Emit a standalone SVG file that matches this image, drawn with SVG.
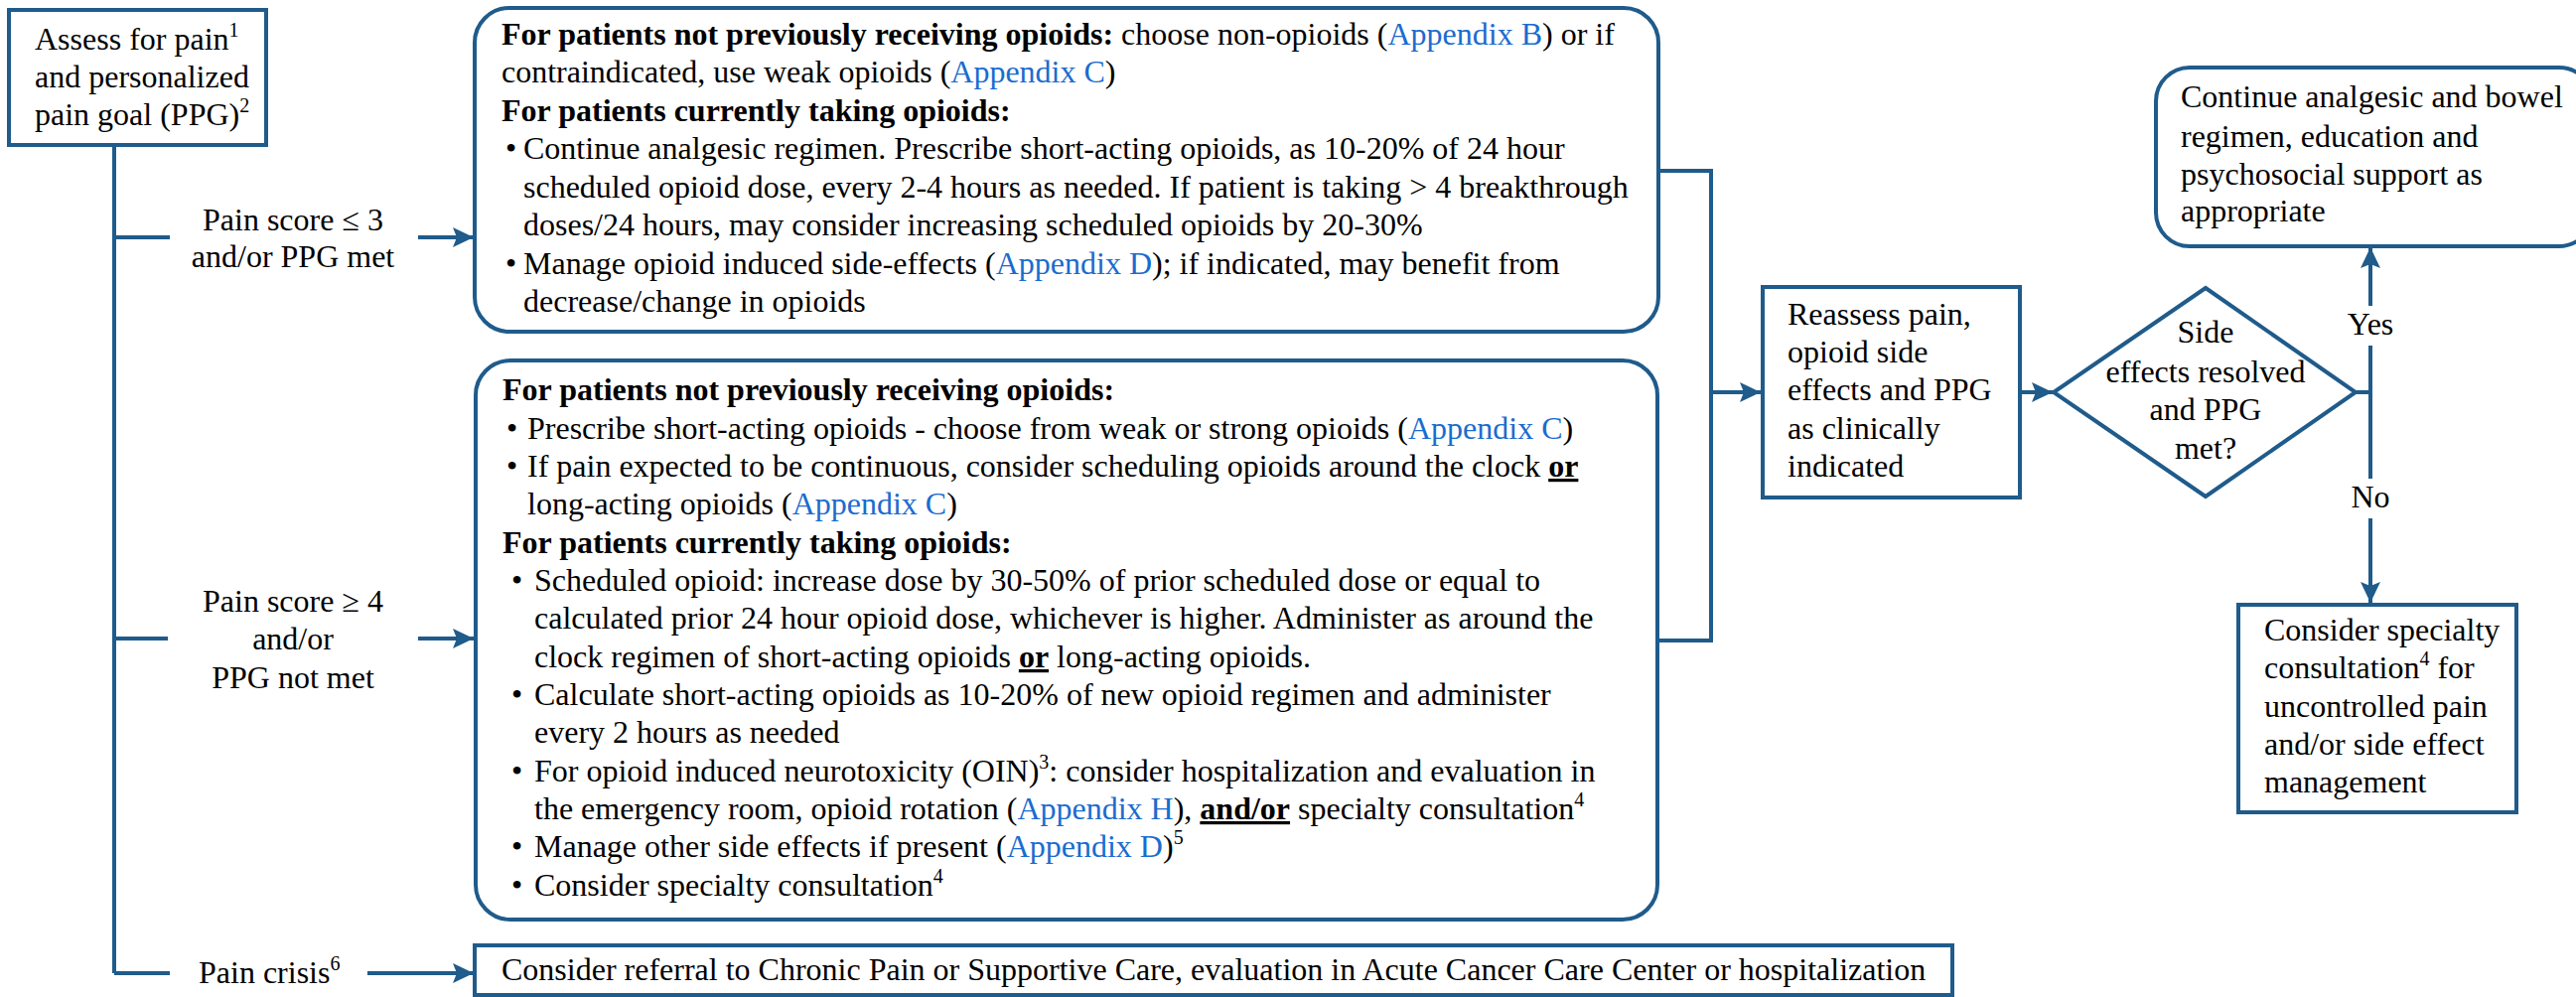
<svg xmlns="http://www.w3.org/2000/svg" width="2594" height="1004" viewBox="0 0 2594 1004">
<style>
text{font-family:"Liberation Serif","Times New Roman",serif;font-size:32px;fill:#000}
.c{text-anchor:middle}
.b{font-weight:bold}
.u{font-weight:bold;text-decoration:underline}
.lk{fill:#1a6ccf}
.box{fill:#fff;stroke:#1f5b8b;stroke-width:4}
.ln{fill:none;stroke:#1f5b8b;stroke-width:4}
</style>
<defs>
<marker id="ah" markerUnits="userSpaceOnUse" markerWidth="22" markerHeight="20" refX="21" refY="10" orient="auto">
<path d="M0,0 L21,10 L0,20 L4,10 z" fill="#1f5b8b"/>
</marker>
</defs>
<rect width="2594" height="1004" fill="#fff"/>

<g id="connectors">
<path class="ln" d="M115,146 V980 M115,239 H171 M115,643 H169 M115,980 H171"/>
<path class="ln" d="M421,239 H477" marker-end="url(#ah)"/>
<path class="ln" d="M421,643 H477" marker-end="url(#ah)"/>
<path class="ln" d="M370,980 H477" marker-end="url(#ah)"/>
<path class="ln" d="M1670,172 H1723 V645 H1669"/>
<path class="ln" d="M1723,395 H1773" marker-end="url(#ah)"/>
<path class="ln" d="M2034,395 H2067" marker-end="url(#ah)"/>
<path class="ln" d="M2372,395 H2387 M2387,348 V482"/>
<path class="ln" d="M2387,308 V249" marker-end="url(#ah)"/>
<path class="ln" d="M2387,522 V607" marker-end="url(#ah)"/>
<text class="c" x="2387" y="337">Yes</text>
<text class="c" x="2387" y="511">No</text>
<text class="c" x="295" y="232">Pain score ≤ 3</text>
<text class="c" x="295" y="269">and/or PPG met</text>
<text class="c" x="295" y="616">Pain score ≥ 4</text>
<text class="c" x="295" y="654">and/or</text>
<text class="c" x="295" y="693">PPG not met</text>
<text x="200" y="990">Pain crisis<tspan font-size="20" dy="-13">6</tspan></text>
</g>

<g id="assess">
<rect class="box" x="9" y="10" width="259" height="136"/>
<text x="35" y="50">Assess for pain<tspan font-size="20" dy="-13">1</tspan></text>
<text x="35" y="88">and personalized</text>
<text x="35" y="126">pain goal (PPG)<tspan font-size="20" dy="-13">2</tspan></text>
</g>

<g id="low-pain">
<rect class="box" x="478" y="8" width="1192" height="326" rx="35"/>
<text x="505" y="45"><tspan class="b">For patients not previously receiving opioids:</tspan> choose non-opioids (<tspan class="lk">Appendix B</tspan>) or if</text>
<text x="505" y="83">contraindicated, use weak opioids (<tspan class="lk">Appendix C</tspan>)</text>
<text x="505" y="122" class="b">For patients currently taking opioids:</text>
<text x="509" y="160">•</text>
<text x="527" y="160">Continue analgesic regimen. Prescribe short-acting opioids, as 10-20% of 24 hour</text>
<text x="527" y="199">scheduled opioid dose, every 2-4 hours as needed. If patient is taking &gt; 4 breakthrough</text>
<text x="527" y="237">doses/24 hours, may consider increasing scheduled opioids by 20-30%</text>
<text x="509" y="276">•</text>
<text x="527" y="276">Manage opioid induced side-effects (<tspan class="lk">Appendix D</tspan>); if indicated, may benefit from</text>
<text x="527" y="314">decrease/change in opioids</text>
</g>

<g id="high-pain">
<rect class="box" x="479" y="363" width="1190" height="563" rx="35"/>
<text x="506" y="403" class="b">For patients not previously receiving opioids:</text>
<text x="510" y="442">•</text>
<text x="531" y="442">Prescribe short-acting opioids - choose from weak or strong opioids (<tspan class="lk">Appendix C</tspan>)</text>
<text x="510" y="480">•</text>
<text x="531" y="480">If pain expected to be continuous, consider scheduling opioids around the clock <tspan class="u">or</tspan></text>
<text x="531" y="518">long-acting opioids (<tspan class="lk">Appendix C</tspan>)</text>
<text x="506" y="557" class="b">For patients currently taking opioids:</text>
<text x="515" y="595">•</text>
<text x="538" y="595">Scheduled opioid: increase dose by 30-50% of prior scheduled dose or equal to</text>
<text x="538" y="633">calculated prior 24 hour opioid dose, whichever is higher. Administer as around the</text>
<text x="538" y="672">clock regimen of short-acting opioids <tspan class="u">or</tspan> long-acting opioids.</text>
<text x="515" y="710">•</text>
<text x="538" y="710">Calculate short-acting opioids as 10-20% of new opioid regimen and administer</text>
<text x="538" y="748">every 2 hours as needed</text>
<text x="515" y="787">•</text>
<text x="538" y="787">For opioid induced neurotoxicity (OIN)<tspan font-size="20" dy="-13">3</tspan><tspan dy="13">: consider hospitalization and evaluation in</tspan></text>
<text x="538" y="825">the emergency room, opioid rotation (<tspan class="lk">Appendix H</tspan>), <tspan class="u">and/or</tspan> specialty consultation<tspan font-size="20" dy="-13">4</tspan></text>
<text x="515" y="863">•</text>
<text x="538" y="863">Manage other side effects if present (<tspan class="lk">Appendix D</tspan>)<tspan font-size="20" dy="-13">5</tspan></text>
<text x="515" y="902">•</text>
<text x="538" y="902">Consider specialty consultation<tspan font-size="20" dy="-13">4</tspan></text>
</g>

<g id="crisis">
<rect class="box" x="478" y="952" width="1488" height="50"/>
<text x="505" y="987">Consider referral to Chronic Pain or Supportive Care, evaluation in Acute Cancer Care Center or hospitalization</text>
</g>

<g id="reassess">
<rect class="box" x="1775" y="289" width="259" height="212"/>
<text x="1800" y="327">Reassess pain,</text>
<text x="1800" y="365">opioid side</text>
<text x="1800" y="403">effects and PPG</text>
<text x="1800" y="442">as clinically</text>
<text x="1800" y="480">indicated</text>
</g>

<g id="decision">
<polygon class="box" points="2221,290 2372,395 2221,500 2068,395"/>
<text class="c" x="2221" y="345">Side</text>
<text class="c" x="2221" y="385">effects resolved</text>
<text class="c" x="2221" y="423">and PPG</text>
<text class="c" x="2221" y="462">met?</text>
</g>

<g id="continue">
<rect class="box" x="2171" y="68" width="440" height="180" rx="34"/>
<text x="2196" y="108">Continue analgesic and bowel</text>
<text x="2196" y="148">regimen, education and</text>
<text x="2196" y="186">psychosocial support as</text>
<text x="2196" y="223">appropriate</text>
</g>

<g id="specialty">
<rect class="box" x="2254" y="609" width="280" height="209"/>
<text x="2280" y="645">Consider specialty</text>
<text x="2280" y="683">consultation<tspan font-size="20" dy="-13">4</tspan><tspan dy="13"> for</tspan></text>
<text x="2280" y="722">uncontrolled pain</text>
<text x="2280" y="760">and/or side effect</text>
<text x="2280" y="798">management</text>
</g>
</svg>
